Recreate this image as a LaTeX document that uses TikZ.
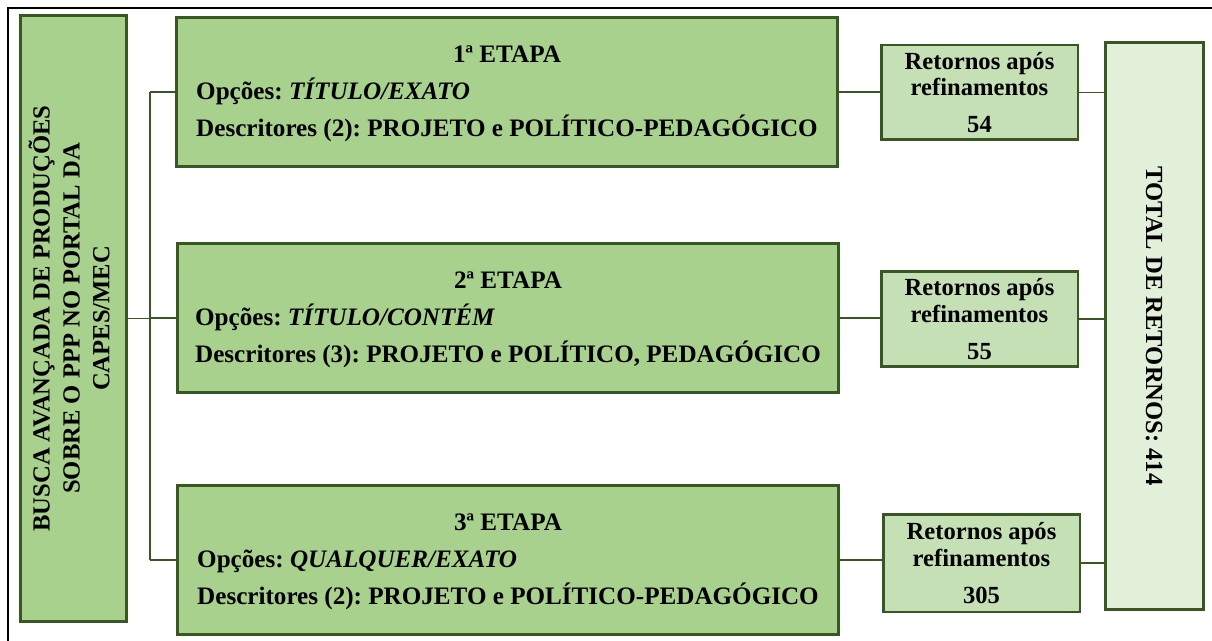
\documentclass[tikz,border=0pt]{standalone}
\usepackage{fontspec}
\setmainfont{Liberation Serif}
\usepackage{tikz}
\usetikzlibrary{positioning}
\definecolor{stageGreen}{RGB}{169,209,142}
\definecolor{returnGreen}{RGB}{197,224,180}
\definecolor{totalGreen}{RGB}{226,240,217}
\definecolor{edgeGreen}{RGB}{56,87,35}
\frenchspacing

\begin{document}
\begin{tikzpicture}[x=0.02cm,y=-0.02cm,
  box/.style={draw=edgeGreen,line width=1.7pt,inner sep=0pt},
  stagebox/.style={box,fill=stageGreen,minimum width=13.22cm,minimum height=3.0cm,
    font=\bfseries\fontsize{14.3}{21}\selectfont},
  returnbox/.style={box,fill=returnGreen,minimum width=3.94cm,minimum height=1.9cm,
    align=center,font=\bfseries\fontsize{14}{15}\selectfont},
  link/.style={edgeGreen,line width=1.1pt}]
  \useasboundingbox (0,0) rectangle (1212,641);
  \draw[line width=1.2pt] (8,641) -- (8,8) -- (1212,8);
  % search box on the left
  \node[box,fill=stageGreen,minimum width=2.14cm,minimum height=12.14cm,
    font=\bfseries\fontsize{14}{17}\selectfont] (busca) at (73.5,318.5)
    {\rotatebox{90}{\begin{tabular}{@{}c@{}}BUSCA AVANÇADA DE PRODUÇÕES\\
      SOBRE O PPP NO PORTAL DA\\ CAPES/MEC\end{tabular}}};
  % the three stages
  \node[stagebox] (etapa1) at (507,92) {\begin{tabular}{@{}l@{}}
    \multicolumn{1}{@{}c@{}}{1ª ETAPA}\\
    Opções: \textit{TÍTULO/EXATO}\\
    Descritores (2): PROJETO e POLÍTICO-PEDAGÓGICO\end{tabular}};
  \node[stagebox] (etapa2) at (508,318) {\begin{tabular}{@{}l@{}}
    \multicolumn{1}{@{}c@{}}{2ª ETAPA}\\
    Opções: \textit{TÍTULO/CONTÉM}\\
    Descritores (3): PROJETO e POLÍTICO, PEDAGÓGICO\end{tabular}};
  \node[stagebox] (etapa3) at (508,560) {\begin{tabular}{@{}l@{}}
    \multicolumn{1}{@{}c@{}}{3ª ETAPA}\\
    Opções: \textit{QUALQUER/EXATO}\\
    Descritores (2): PROJETO e POLÍTICO-PEDAGÓGICO\end{tabular}};
  % returns per stage
  \node[returnbox] (ret1) at (979.5,92.5) {Retornos após\\ refinamentos\\[6pt] 54};
  \node[returnbox] (ret2) at (979.5,319) {Retornos após\\ refinamentos\\[6pt] 55};
  \node[returnbox,minimum height=1.96cm] (ret3) at (981.5,563) {Retornos após\\ refinamentos\\[6pt] 305};
  % total
  \node[box,fill=totalGreen,minimum width=1.96cm,minimum height=11.36cm,
    font=\bfseries\fontsize{14}{17}\selectfont] (total) at (1154,326)
    {\rotatebox{-90}{TOTAL DE RETORNOS: 414}};
  % connectors
  \coordinate (spine) at (150,320);
  \draw[link] (busca.east) -- (busca.east -| spine);
  \draw[link] (spine |- etapa1.west) -- (spine |- etapa3.west);
  \foreach \i in {1,2,3} {
    \draw[link] (spine |- etapa\i.west) -- (etapa\i.west);
    \draw[link] (etapa\i.east) -- (etapa\i.east -| ret\i.west);
    \draw[link] (ret\i.east) -- (ret\i.east -| total.west);
  }
\end{tikzpicture}
\end{document}
